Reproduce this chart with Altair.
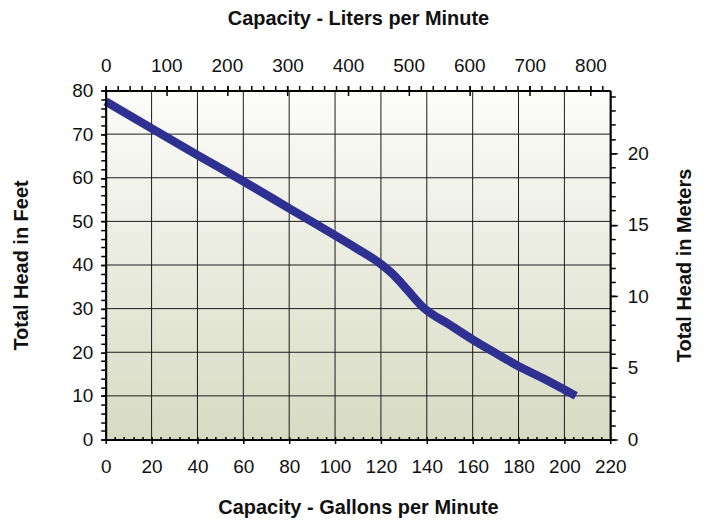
import altair as alt
import pandas as pd

# ---- data ----
gpm = [0, 20, 40, 60, 80, 100, 110, 120, 126, 132, 138, 150, 160, 170, 180, 190, 205]
feet = [77.5, 71.3, 65.2, 59.2, 53.0, 46.8, 43.6, 40.2, 37.5, 34.0, 30.5, 26.3, 22.9, 19.8, 16.8, 14.2, 10.0]

gpm_major = [0, 20, 40, 60, 80, 100, 120, 140, 160, 180, 200, 220]
gpm_minor = list(range(0, 221, 4))
feet_major = [0, 10, 20, 30, 40, 50, 60, 70, 80]
feet_minor = list(range(0, 81, 2))
lpm_major = [0, 100, 200, 300, 400, 500, 600, 700, 800]
lpm_minor = list(range(0, 821, 20))
m_major = [0, 5, 10, 15, 20]
m_minor = list(range(0, 25, 1))

W, H = 506, 350
GAL_MAX, FT_MAX = 220, 80
L_MAX = GAL_MAX * 3.78541
M_MAX = FT_MAX * 0.3048

FONT = "Liberation Sans"
LINE_COLOR = "#2e3192"

xs = alt.Scale(domain=[0, GAL_MAX], nice=False, zero=False)
ys = alt.Scale(domain=[0, FT_MAX], nice=False, zero=False)
ls = alt.Scale(domain=[0, L_MAX], nice=False, zero=False)
ms = alt.Scale(domain=[0, M_MAX], nice=False, zero=False)

curve = pd.DataFrame({"gpm": gpm, "feet": feet})


def tick_axis(orient, values, size, offset=0):
    return alt.Axis(orient=orient, values=values, tickSize=size, offset=offset,
                    labels=False, domain=False, title=None, grid=False,
                    ticks=True, zindex=2, tickWidth=1.5, tickColor="#000")


def ax_layer(values, channel, scale, axis):
    df = pd.DataFrame({"v": values})
    if channel == "x":
        enc = {"x": alt.X("v:Q", scale=scale, axis=axis)}
    else:
        enc = {"y": alt.Y("v:Q", scale=scale, axis=axis)}
    return alt.Chart(df).mark_point(opacity=0).encode(**enc)


bg = alt.Chart(pd.DataFrame({"a": [0]})).mark_rect(
    fill=alt.LinearGradient(
        gradient="linear",
        stops=[alt.GradientStop(color="#fcfcfa", offset=0),
               alt.GradientStop(color="#d7dbc3", offset=1)],
        x1=0, x2=0, y1=0, y2=1),
    strokeWidth=0,
).encode(x=alt.value(0), x2=alt.value(W), y=alt.value(0), y2=alt.value(H))

vgrid = alt.Chart(pd.DataFrame({"g": gpm_major})).mark_rule(
    color="#1a1a1a", strokeWidth=1).encode(
    x=alt.X("g:Q", scale=xs, axis=None))

hgrid = alt.Chart(pd.DataFrame({"f": feet_major})).mark_rule(
    color="#1a1a1a", strokeWidth=1).encode(
    y=alt.Y("f:Q", scale=ys, axis=None))

line = alt.Chart(curve).mark_line(
    color=LINE_COLOR, strokeWidth=8.5, interpolate="monotone", strokeCap="butt"
).encode(
    x=alt.X("gpm:Q", scale=xs, axis=alt.Axis(
        orient="bottom", values=gpm_major, tickSize=4, tickWidth=1.5,
        labelPadding=14, labelOverlap=False, labelFlush=False,
        title="Capacity - Gallons per Minute",
        titleX=W / 2, titleY=68, titleBaseline="middle", titleAlign="center",
        grid=False, zindex=2)),
    y=alt.Y("feet:Q", scale=ys, axis=alt.Axis(
        orient="left", values=feet_major, tickSize=5, tickWidth=1.5,
        labelPadding=8, labelOverlap=False, labelFlush=False,
        title="Total Head in Feet",
        titleX=-84, titleY=H / 2, titleAngle=270, titleBaseline="middle",
        titleAlign="center", grid=False, zindex=2)),
)

top_axis = ax_layer(lpm_major, "x", ls, alt.Axis(
    orient="top", values=lpm_major, tickSize=5, tickWidth=1.5,
    labelPadding=10, labelOverlap=False, labelFlush=False,
    title="Capacity - Liters per Minute",
    titleX=W / 2, titleY=-72, titleBaseline="middle", titleAlign="center",
    grid=False, zindex=2))
right_axis = ax_layer(m_major, "y", ms, alt.Axis(
    orient="right", values=m_major, tickSize=7, tickWidth=1.5,
    labelPadding=10, labelOverlap=False, labelFlush=False,
    title="Total Head in Meters",
    titleX=74, titleY=H / 2, titleAngle=270, titleBaseline="middle",
    titleAlign="center", grid=False, zindex=2))

layers = [
    bg, vgrid, hgrid, line, top_axis, right_axis,
    ax_layer(gpm_minor, "x", xs, tick_axis("bottom", gpm_minor, 3, -3)),
    ax_layer(feet_minor, "y", ys, tick_axis("left", feet_minor, 5)),
    ax_layer(lpm_minor, "x", ls, tick_axis("top", lpm_minor, 5)),
    ax_layer(lpm_major, "x", ls, tick_axis("top", lpm_major, 5, -5)),
    ax_layer(m_minor, "y", ms, tick_axis("right", m_minor, 5)),
]

chart = alt.layer(*layers).resolve_scale(
    x="independent", y="independent"
).resolve_axis(
    x="independent", y="independent"
).properties(
    width=W, height=H,
    autosize=alt.AutoSizeParams(type="none"),
    padding={"left": 98, "top": 82, "right": 90, "bottom": 84},
).configure_view(stroke=None).configure_axis(
    labelFont=FONT, labelFontSize=19, labelColor="#111",
    titleFont=FONT, titleFontSize=20, titleFontWeight="bold", titleColor="#111",
    domainColor="#000", domainWidth=2, tickColor="#000",
)

chart.save("out.html", embed_options={"renderer": "svg", "actions": False})
